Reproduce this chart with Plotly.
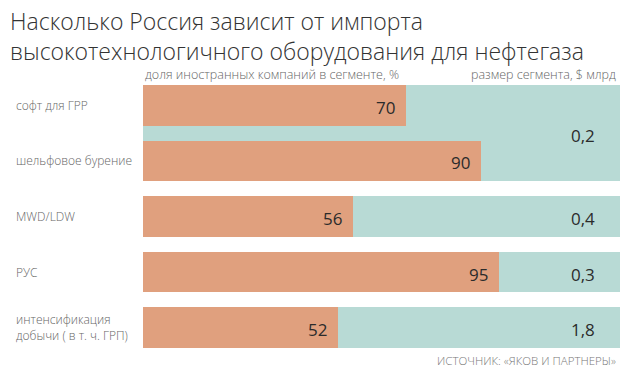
import plotly.graph_objects as go

title_text = ("Насколько Россия зависит от импорта<br>"
              "высокотехнологичного оборудования для нефтегаза")
categories = ["софт для ГРР", "шельфовое бурение", "MWD/LDW", "РУС",
              "интенсификация<br>добычи ( в т. ч. ГРП)"]
foreign_share = [70, 90, 56, 95, 52]
share_labels = ["70", "90", "56", "95", "52"]
# segment size groups: label and (first row index, last row index)
segment_labels = ["0,2", "0,4", "0,3", "1,8"]
segment_rows = [(0, 1), (2, 2), (3, 3), (4, 4)]
x_max = 127.2

ORANGE = "#E0A07E"
TEAL = "#B8DAD5"
BAR_W = 0.73
FONT = "Open Sans"

rows = list(range(len(categories)))

fig = go.Figure()

# teal background (segment size) — one block per group
teal_y = [(a + b) / 2 for a, b in segment_rows]
teal_w = [(b - a) + BAR_W for a, b in segment_rows]
fig.add_trace(go.Bar(
    y=teal_y, x=[x_max] * len(segment_rows), width=teal_w,
    orientation="h", marker=dict(color=TEAL, line=dict(width=0)),
    hoverinfo="skip", showlegend=False))

# orange share bars
fig.add_trace(go.Bar(
    y=rows, x=foreign_share, width=BAR_W,
    orientation="h", marker=dict(color=ORANGE, line=dict(width=0)),
    hoverinfo="skip", showlegend=False))

annotations = []
for r, v, lab in zip(rows, foreign_share, share_labels):
    annotations.append(dict(x=v, y=r, xref="x", yref="y", text=lab,
                            showarrow=False, xanchor="right", xshift=-9,
                            yshift=-2,
                            font=dict(family=FONT, size=17, color="#2b2b2b")))
for ty, lab in zip(teal_y, segment_labels):
    annotations.append(dict(x=x_max, y=ty, xref="x", yref="y", text=lab,
                            showarrow=False, xanchor="right", xshift=-23,
                            yshift=-2,
                            font=dict(family=FONT, size=17, color="#2b2b2b")))
for r, c in zip(rows, categories):
    annotations.append(dict(x=-0.2704, y=r, xref="paper", yref="y", text=c,
                            showarrow=False, xanchor="left", align="left",
                            font=dict(family=FONT, size=12, color="#666666",
                                      weight=300)))

annotations += [
    dict(x=-0.283, y=1.188, xref="paper", yref="paper",
         text=title_text, showarrow=False, xanchor="left",
         yanchor="middle", align="left",
         font=dict(family=FONT, size=23, color="#333333", weight=300)),
    dict(x=0, y=1.04, xref="paper", yref="paper",
         text="доля иностранных компаний в сегменте, %",
         showarrow=False, xanchor="left", yanchor="middle",
         font=dict(family=FONT, size=12.5, color="#666666", weight=300)),
    dict(x=0.996, y=1.04, xref="paper", yref="paper",
         text="размер сегмента, $ млрд",
         showarrow=False, xanchor="right", yanchor="middle",
         font=dict(family=FONT, size=12.5, color="#666666", weight=300)),
    dict(x=0.996, y=-0.01, xref="paper", yref="paper",
         text="ИСТОЧНИК: «ЯКОВ И ПАРТНЕРЫ»",
         showarrow=False, xanchor="right", yanchor="top",
         font=dict(family=FONT, size=11.5, color="#777777", weight=300)),
]

fig.update_layout(
    width=628, height=374,
    margin=dict(l=143, r=8, t=85, b=26),
    paper_bgcolor="white", plot_bgcolor="white",
    barmode="overlay", bargap=0,
    xaxis=dict(range=[0, x_max], visible=False, fixedrange=True),
    yaxis=dict(range=[len(categories) - 1 + BAR_W / 2, -BAR_W / 2],
               visible=False, fixedrange=True),
    annotations=annotations,
    showlegend=False,
)

fig.write_html("out.html", config={"displayModeBar": False},
               post_script="document.body.style.margin='0';")
